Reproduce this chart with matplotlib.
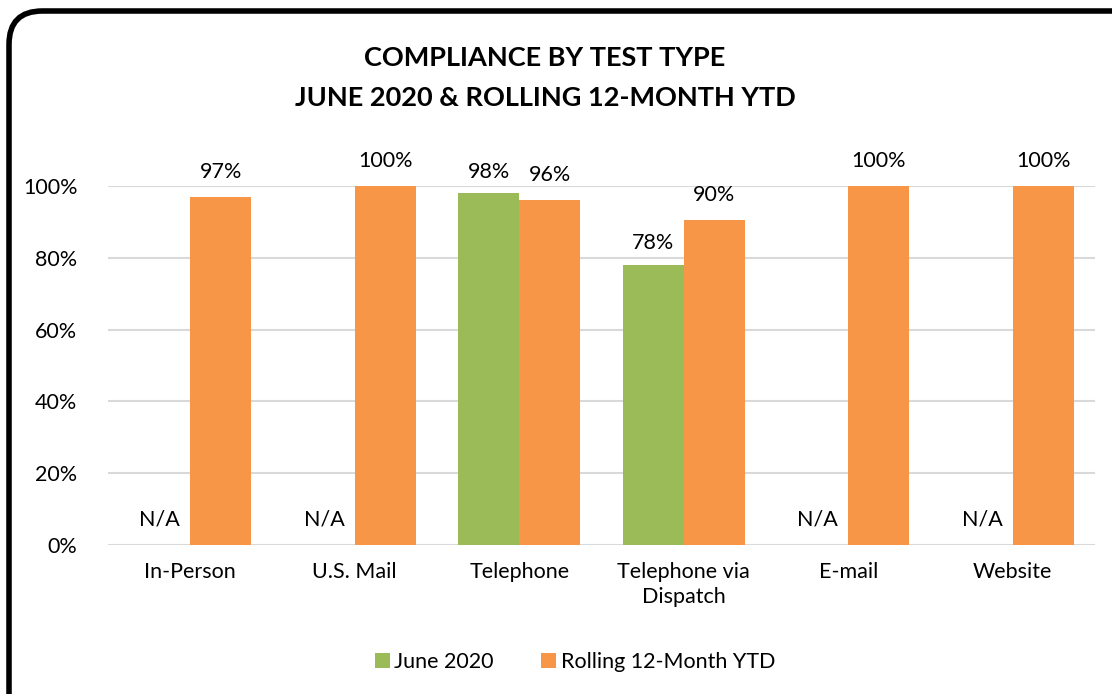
import numpy as np
import matplotlib.pyplot as plt
from matplotlib.patches import FancyBboxPatch

plt.rcParams['font.family'] = ['Lato', 'DejaVu Sans']

# data
categories = ["In-Person", "U.S. Mail", "Telephone", "Telephone via\nDispatch", "E-mail", "Website"]
june_2020 = [np.nan, np.nan, 0.98, 0.78, np.nan, np.nan]
rolling_ytd = [0.97, 1.00, 0.96, 0.905, 1.00, 1.00]
june_labels = ["N/A", "N/A", "98%", "78%", "N/A", "N/A"]
rolling_labels = ["97%", "100%", "96%", "90%", "100%", "100%"]

green = "#9BBB59"
orange = "#F79646"

fig = plt.figure(figsize=(11.12, 6.94), dpi=100)
W, H = 1112, 694

# rounded border round the chart, running off the right and bottom edges
border = FancyBboxPatch((9 / W, -0.5), 1.2, 0.5 + 1 - 11 / H,
                        boxstyle="round,pad=0,rounding_size=0.03",
                        transform=fig.transFigure, fill=False, edgecolor="black", linewidth=4,
                        mutation_aspect=W / H)
fig.patches.append(border)

ax = fig.add_axes([108 / W, 1 - 545 / H, (1095 - 108) / W, (545 - 186) / H])

fs = 15.5
x = np.arange(len(categories))
w = 0.37
ax.bar(x - w / 2, np.nan_to_num(june_2020), w, color=green, label="June 2020", zorder=3)
ax.bar(x + w / 2, rolling_ytd, w, color=orange, label="Rolling 12-Month YTD", zorder=3)

for i in range(len(categories)):
    jv = june_2020[i]
    if np.isnan(jv):
        ax.text(x[i] - w / 2, 0.07, june_labels[i], ha="center", va="center", fontsize=fs, color="black")
    else:
        ax.text(x[i] - w / 2, jv + 0.06, june_labels[i], ha="center", va="center", fontsize=fs, color="black")
    ax.text(x[i] + w / 2, rolling_ytd[i] + 0.07, rolling_labels[i], ha="center", va="center",
            fontsize=fs, color="black", clip_on=False)

ax.set_xlim(-0.5, len(categories) - 0.5)
ax.set_ylim(0, 1.0)
ax.set_yticks(np.arange(0, 1.01, 0.2))
ax.set_yticklabels([f"{int(round(v * 100))}%" for v in np.arange(0, 1.01, 0.2)])
ax.set_xticks(x)
ax.set_xticklabels(categories, linespacing=1.35)
ax.tick_params(axis="both", length=0, labelsize=fs, colors="black")
ax.tick_params(axis="y", pad=22)
ax.tick_params(axis="x", pad=12)
ax.grid(axis="y", color="#D9D9D9", linewidth=1.5, zorder=0)
ax.set_axisbelow(True)
for s in ax.spines.values():
    s.set_visible(False)

fig.text(545 / W, 1 - 58 / H, "COMPLIANCE BY TEST TYPE", ha="center", va="center",
         fontsize=19.5, fontweight="bold")
fig.text(545 / W, 1 - 98 / H, "JUNE 2020 & ROLLING 12-MONTH YTD", ha="center", va="center",
         fontsize=19.5, fontweight="bold")

fig.legend(loc="center", bbox_to_anchor=(575 / W, 1 - 662 / H), ncol=2, frameon=False,
           fontsize=fs, handlelength=0.7, handleheight=0.7, handletextpad=0.2, columnspacing=2.2)

fig.savefig("out.png", dpi=100)
